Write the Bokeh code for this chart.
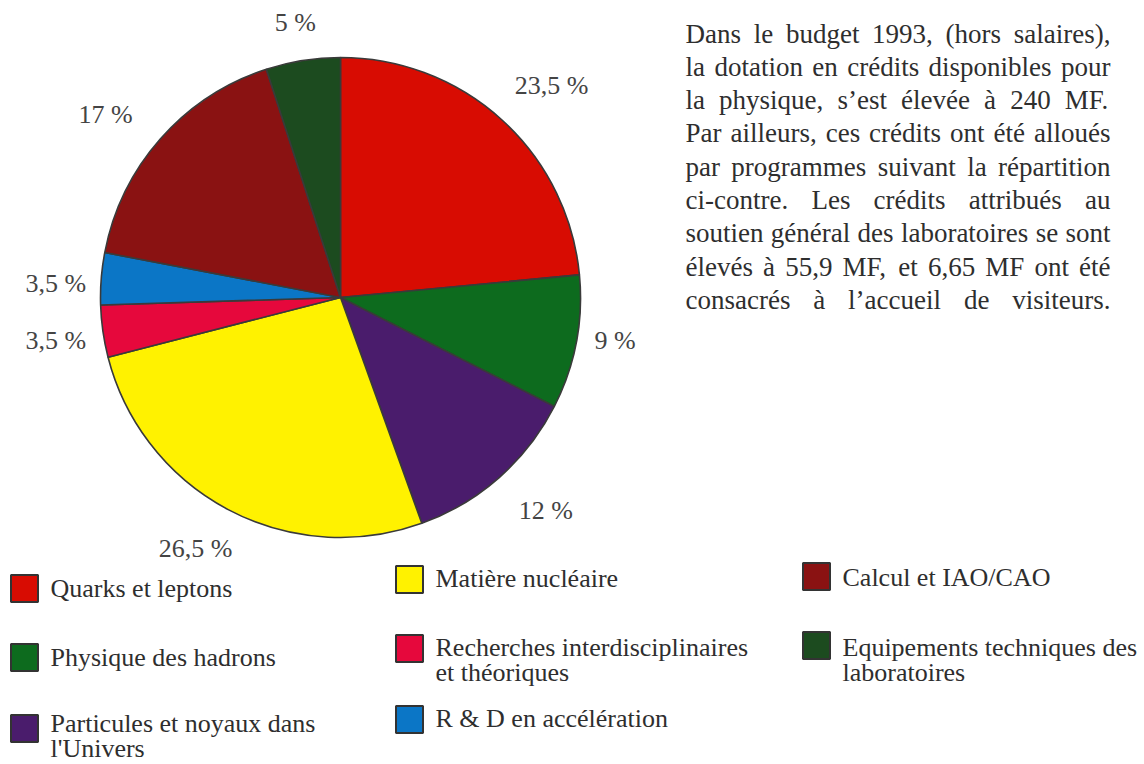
import numpy as np
from bokeh.plotting import figure
from bokeh.models import ColumnDataSource, Range1d
from bokeh.core.properties import value
from bokeh.embed import file_html
from bokeh.resources import INLINE

# ---------------- data ----------------
categories = [
    "Quarks et leptons",
    "Physique des hadrons",
    "Particules et noyaux dans l'Univers",
    "Matière nucléaire",
    "Recherches interdisciplinaires et théoriques",
    "R & D en accélération",
    "Calcul et IAO/CAO",
    "Equipements techniques des laboratoires",
]
shares = [23.5, 9, 12, 26.5, 3.5, 3.5, 17, 5]
share_labels = ["23,5 %", "9 %", "12 %", "26,5 %", "3,5 %", "3,5 %", "17 %", "5 %"]
colors = ["#d80c02", "#0d6b1e", "#4a1c6c", "#fff200",
          "#e6083c", "#0b76c6", "#8a1212", "#1c4b1f"]
legend_lines = [
    ["Quarks et leptons"],
    ["Physique des hadrons"],
    ["Particules et noyaux dans", "l'Univers"],
    ["Matière nucléaire"],
    ["Recherches interdisciplinaires", "et théoriques"],
    ["R & D en accélération"],
    ["Calcul et IAO/CAO"],
    ["Equipements techniques des", "laboratoires"],
]
paragraph_lines = [
    "Dans le budget 1993, (hors salaires),",
    "la dotation en crédits disponibles pour",
    "la physique, s’est élevée à 240 MF.",
    "Par ailleurs, ces crédits ont été alloués",
    "par programmes suivant la répartition",
    "ci-contre. Les crédits attribués au",
    "soutien général des laboratoires se sont",
    "élevés à 55,9 MF, et 6,65 MF ont été",
    "consacrés à l’accueil de visiteurs.",
]

# ---------------- layout ----------------
W, H = 1144, 764
def X(px):
    return px
def Y(py):
    return H - py

FONT = value("Liberation Serif")
TXT = "#2e2e2e"

p = figure(width=W, height=H, x_range=Range1d(0, W), y_range=Range1d(0, H),
           output_backend="svg", toolbar_location=None,
           x_axis_location=None, y_axis_location=None, min_border=0)
p.grid.visible = False
p.outline_line_color = None
p.background_fill_color = "white"
p.border_fill_color = "white"

# pie
cx, cy, R = X(340), Y(297), 240
fr = np.array(shares, dtype=float) / 100.0
cum = np.cumsum(fr)
start = np.pi / 2 - 2 * np.pi * (cum - fr)
end = np.pi / 2 - 2 * np.pi * cum
src = ColumnDataSource(dict(start=start, end=end, color=colors, cat=categories))
p.wedge(x=cx, y=cy, radius=R, start_angle="start", end_angle="end",
        direction="clock", fill_color="color", line_color="#3a3a3a",
        line_width=1.6, source=src)

# percentage labels
label_r = [299, 278, 296, 290, 288, 285, 298, 279]
label_nudge = [-2.6, 1.9, 2.5, -2.1, 0.5, 1.7, 3.4, 0.3]
mid = (start + end) / 2 + np.radians(label_nudge)
lx = cx + np.array(label_r) * np.cos(mid)
ly = cy + np.array(label_r) * np.sin(mid)
p.text(x=lx, y=ly, text=share_labels, text_font=FONT, text_font_size="26px",
       text_color="#444444", text_align="center", text_baseline="middle")

# legend
sq_x = [24, 24, 24, 409, 409, 409, 816, 816]
sq_y = [588, 657, 728, 579, 648, 719, 576, 645]
tx_x = [50, 50, 50, 435, 435, 435, 842, 842]
tx_mid = [588, 657, 723, 578, 647, 718, 577, 647]
p.rect(x=[X(v) for v in sq_x], y=[Y(v) for v in sq_y], width=27, height=27,
       fill_color=colors, line_color="#333333", line_width=2)
lt, lxs, lys = [], [], []
for i, lines in enumerate(legend_lines):
    for j, s in enumerate(lines):
        lt.append(s)
        lxs.append(X(tx_x[i]))
        lys.append(Y(tx_mid[i] + 25 * j))
p.text(x=lxs, y=lys, text=lt, text_font=FONT, text_font_size="26px",
       text_color=TXT, text_align="left", text_baseline="middle")

# justified paragraph (Times metrics used to spread words)
tw = {' ': 250, ',': 250, '.': 250, '(': 333, ')': 333, '’': 333, "'": 333, '-': 333,
      'a': 444, 'b': 500, 'c': 444, 'd': 500, 'e': 444, 'f': 333, 'g': 500, 'h': 500,
      'i': 278, 'j': 278, 'k': 500, 'l': 278, 'm': 778, 'n': 500, 'o': 500, 'p': 500,
      'q': 500, 'r': 333, 's': 389, 't': 278, 'u': 500, 'v': 500, 'w': 722, 'x': 500,
      'y': 500, 'z': 444, 'é': 444, 'è': 444, 'à': 444,
      'D': 722, 'L': 611, 'M': 889, 'F': 556, 'P': 556}
FS = 27.0
def width(word):
    return sum(tw.get(ch, 500) for ch in word) * FS / 1000.0

left, right = X(685), X(1110)
wt, wx, wy = [], [], []
for i, line in enumerate(paragraph_lines):
    words = line.split(" ")
    ws = [width(w) for w in words]
    gap = (right - left - sum(ws)) / (len(words) - 1)
    x = left
    mid_y = Y(33 + 33.3 * i)
    for w, wd in zip(words, ws):
        wt.append(w)
        wx.append(x)
        wy.append(mid_y)
        x += wd + gap
p.text(x=wx, y=wy, text=wt, text_font=FONT, text_font_size=f"{FS}px",
       text_color=TXT, text_align="left", text_baseline="middle")

open("out.html", "w").write(file_html(p, INLINE))
